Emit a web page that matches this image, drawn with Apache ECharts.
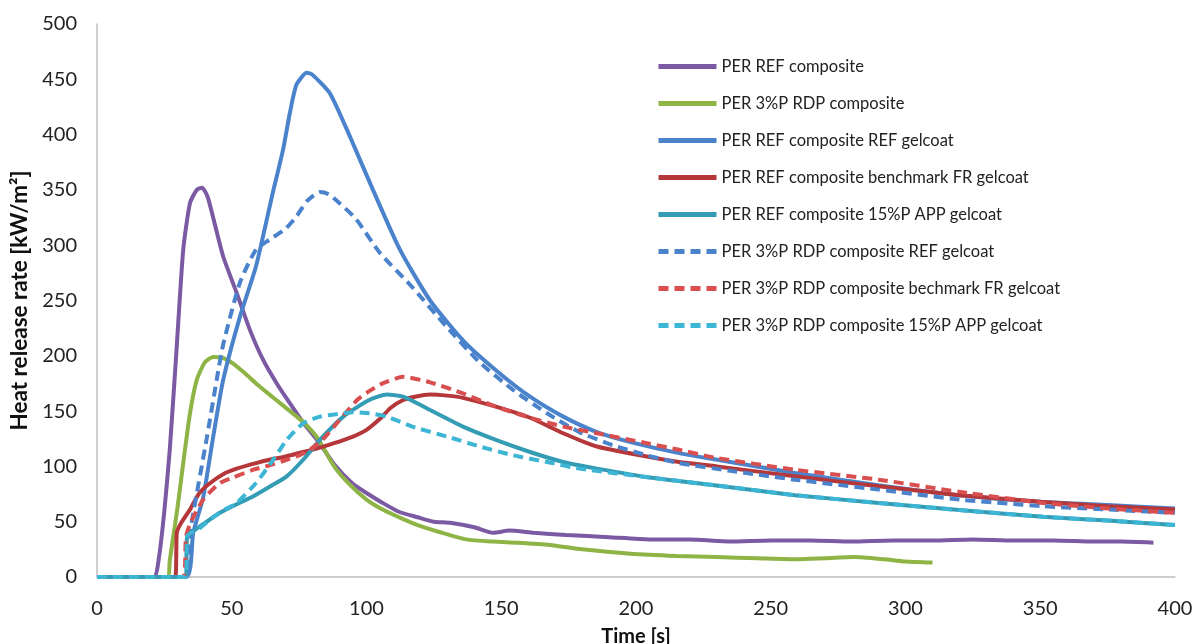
<!DOCTYPE html>
<html>
<head>
<meta charset="utf-8">
<script src="https://cdn.jsdelivr.net/npm/echarts@6/dist/echarts.min.js"></script>
<style>
  html, body { margin: 0; padding: 0; background: #fff; }
  #chart { width: 1192px; height: 644px; }
</style>
</head>
<body>
<div id="chart"></div>
<script>
// time [s] / heat release rate [kW/m2]
let refT = [0, 21, 23, 25, 27, 29.5, 32, 34.5, 37, 39, 41, 43, 46.8, 51.8, 56.8, 61.7, 66.7, 71.6, 77, 82, 88, 95, 100, 106, 112, 119, 125, 131, 140, 147, 153, 162, 174, 190, 205, 220, 235, 250, 265, 280, 295, 310, 325, 340, 355, 370, 380, 392]
let refV = [0, 0, 18, 60, 115, 205, 296, 338, 350, 352, 344, 326, 290, 257, 223, 196, 175, 157, 138, 123, 102, 84, 76, 67, 59, 54, 50, 49, 45, 40, 42, 40, 38, 36, 34, 34, 32, 33, 33, 32, 33, 33, 34, 33, 33, 32, 32, 31]

let rdpT = [0, 26, 27, 28.5, 30, 32, 34.5, 37, 40, 43, 46.8, 50.5, 55, 59, 65, 71.6, 77, 82, 88, 94, 100, 106, 113, 119, 128, 137, 147, 156, 168, 180, 198, 215, 230, 245, 260, 270, 281, 292, 300, 310]
let rdpV = [0, 0, 15, 40, 65, 103, 148, 178, 194, 199, 198, 193, 184, 175, 163, 150, 139, 125, 100, 83, 70, 61, 53, 47, 40, 34, 32, 31, 29, 25, 21, 19, 18, 17, 16, 17, 18, 16, 14, 13]

let refRefGelT = [0, 33, 35.7, 39.4, 43, 46.8, 53, 59, 65, 69, 71.6, 74, 77.8, 80, 86.5, 93.9, 102.4, 112.4, 123.6, 135.8, 148, 160.7, 173, 185.5, 198, 216, 235, 259, 290, 320, 350, 375, 400]
let refRefGelV = [0, 0, 40, 72, 125, 178, 235, 281, 345, 386, 420, 445, 456, 454, 437, 398, 350, 296, 250, 214, 187, 163, 145, 131, 122, 112, 104, 94, 83, 74, 68, 65, 62]

let refBenchT = [0, 29, 29.6, 31, 34.5, 38, 42, 46.8, 51.8, 59, 64, 70, 76.5, 82.7, 88, 95, 100, 105, 109, 113.6, 118, 123.6, 130, 135.8, 148, 160.7, 173, 185.5, 204, 216, 230, 259, 290, 320, 350, 375, 400]
let refBenchV = [0, 0, 40, 48, 61, 76, 85, 93, 98, 103, 106, 109, 113, 117, 121, 127, 133, 143, 153, 160, 163, 165, 164, 162, 154, 144, 130, 118, 109, 104, 100, 91, 82, 74, 68, 64, 61]

let refAppT = [0, 33, 33.4, 36, 40.7, 45.6, 52, 58, 65, 70.4, 76.5, 82.7, 91.4, 101, 107.5, 113.6, 123.6, 135.8, 148, 160.7, 173, 185.5, 205, 229, 259, 290, 320, 351, 375, 400]
let refAppV = [0, 0, 36, 42, 50, 58, 66, 73, 83, 91, 106, 124, 145, 160, 165, 163, 151, 136, 124, 113, 104, 98, 90, 83, 74, 67, 60.5, 54.5, 51, 47]

let rdpRefGelT = [0, 33, 34.5, 40.7, 44.4, 46.8, 53, 59, 64, 70, 74, 78, 82.7, 86, 90, 96, 105, 117, 129.8, 142, 154.5, 167, 179, 191.6, 204, 216, 235, 259, 290, 320, 351, 375, 400]
let rdpRefGelV = [0, 0, 40, 125, 178, 210, 266, 296, 305, 315, 326, 340, 348, 346, 338, 324, 293, 262, 226, 194, 169, 148, 131, 119, 110, 103, 96, 88, 79, 70, 64, 61, 58]

let rdpBenchT = [0, 32, 33, 34.5, 39.4, 45.6, 50.5, 58, 64, 70.4, 75, 79, 84, 89, 96.5, 101, 106, 113.6, 123.6, 135.8, 148, 160.7, 173, 185.5, 204, 216, 229, 259, 290, 320, 351, 375, 400]
let rdpBenchV = [0, 0, 36, 48, 70, 85, 90, 97, 101, 106, 110, 115, 125, 139, 160, 168, 175, 181, 176, 166, 154, 144, 136, 130, 121, 115, 108, 97, 88, 77, 67, 62, 58]

let rdpAppT = [0, 33, 33.5, 38, 42, 46, 51.8, 59, 65.4, 70.4, 76.5, 82.7, 88, 95, 101, 107.5, 117, 129.8, 142, 154.5, 167, 179, 205, 229, 259, 290, 320, 351, 375, 400]
let rdpAppV = [0, 0, 37, 44, 52, 59, 67, 85, 106, 124, 139, 145, 147, 149, 148, 145, 136, 127, 118, 110, 104, 98, 90, 83, 74, 67, 60.5, 54.5, 51, 47]

function pairs(t, v){
  let out = []
  for (let i = 0; i < t.length; i++){
    out.push([t[i], v[i]])
  }
  return out
}

function line(name, t, v, color, dashed){
  return {
    name: name,
    type: 'line',
    data: pairs(t, v),
    showSymbol: false,
    symbol: 'none',
    smooth: 0.2,
    lineStyle: {
      color: color,
      width: 4,
      type: dashed ? [10, 6] : 'solid'
    },
    itemStyle: { color: color }
  }
}

let chart = echarts.init(document.getElementById('chart'))
chart.setOption({
  animation: false,
  textStyle: { fontFamily: 'Lato' },
  grid: { left: 97, right: 17, top: 24, bottom: 67, outerBoundsMode: 'none' },
  legend: {
    orient: 'vertical',
    left: 651,
    top: 53,
    itemWidth: 58,
    itemHeight: 14,
    itemGap: 20,
    itemStyle: { opacity: 0 },
    lineStyle: { width: 5 },
    textStyle: { fontSize: 16.5, color: '#222', fontFamily: 'Lato' }
  },
  xAxis: {
    type: 'value',
    min: 0,
    max: 400,
    interval: 50,
    name: 'Time [s]',
    nameLocation: 'middle',
    nameGap: 50,
    nameTextStyle: { fontSize: 20, fontWeight: 'bold', color: '#111' },
    axisLine: { lineStyle: { color: '#bfbfbf', width: 1.5 } },
    axisTick: { show: false },
    splitLine: { show: false },
    axisLabel: { fontSize: 20, color: '#222', margin: 22 }
  },
  yAxis: {
    type: 'value',
    min: 0,
    max: 500,
    interval: 50,
    name: 'Heat release rate [kW/m²]',
    nameLocation: 'middle',
    nameGap: 61,
    nameTextStyle: { fontSize: 22.5, fontWeight: 'bold', color: '#111' },
    axisLine: { show: true, lineStyle: { color: '#bfbfbf', width: 1.5 } },
    axisTick: { show: false },
    splitLine: { show: false },
    axisLabel: { fontSize: 20, color: '#222', margin: 20 }
  },
  series: [
    line('PER REF composite', refT, refV, '#7b59a3', false),
    line('PER 3%P RDP composite', rdpT, rdpV, '#8db444', false),
    line('PER REF composite REF gelcoat', refRefGelT, refRefGelV, '#4a83cb', false),
    line('PER REF composite benchmark FR gelcoat', refBenchT, refBenchV, '#b5373a', false),
    line('PER REF composite 15%P APP gelcoat', refAppT, refAppV, '#349db5', false),
    line('PER 3%P RDP composite REF gelcoat', rdpRefGelT, rdpRefGelV, '#4a83cb', true),
    line('PER 3%P RDP composite bechmark FR gelcoat', rdpBenchT, rdpBenchV, '#d94f4f', true),
    line('PER 3%P RDP composite 15%P APP gelcoat', rdpAppT, rdpAppV, '#3db5d4', true)
  ]
})
window.addEventListener('resize', function() {
  chart.resize()
})
</script>
</body>
</html>
